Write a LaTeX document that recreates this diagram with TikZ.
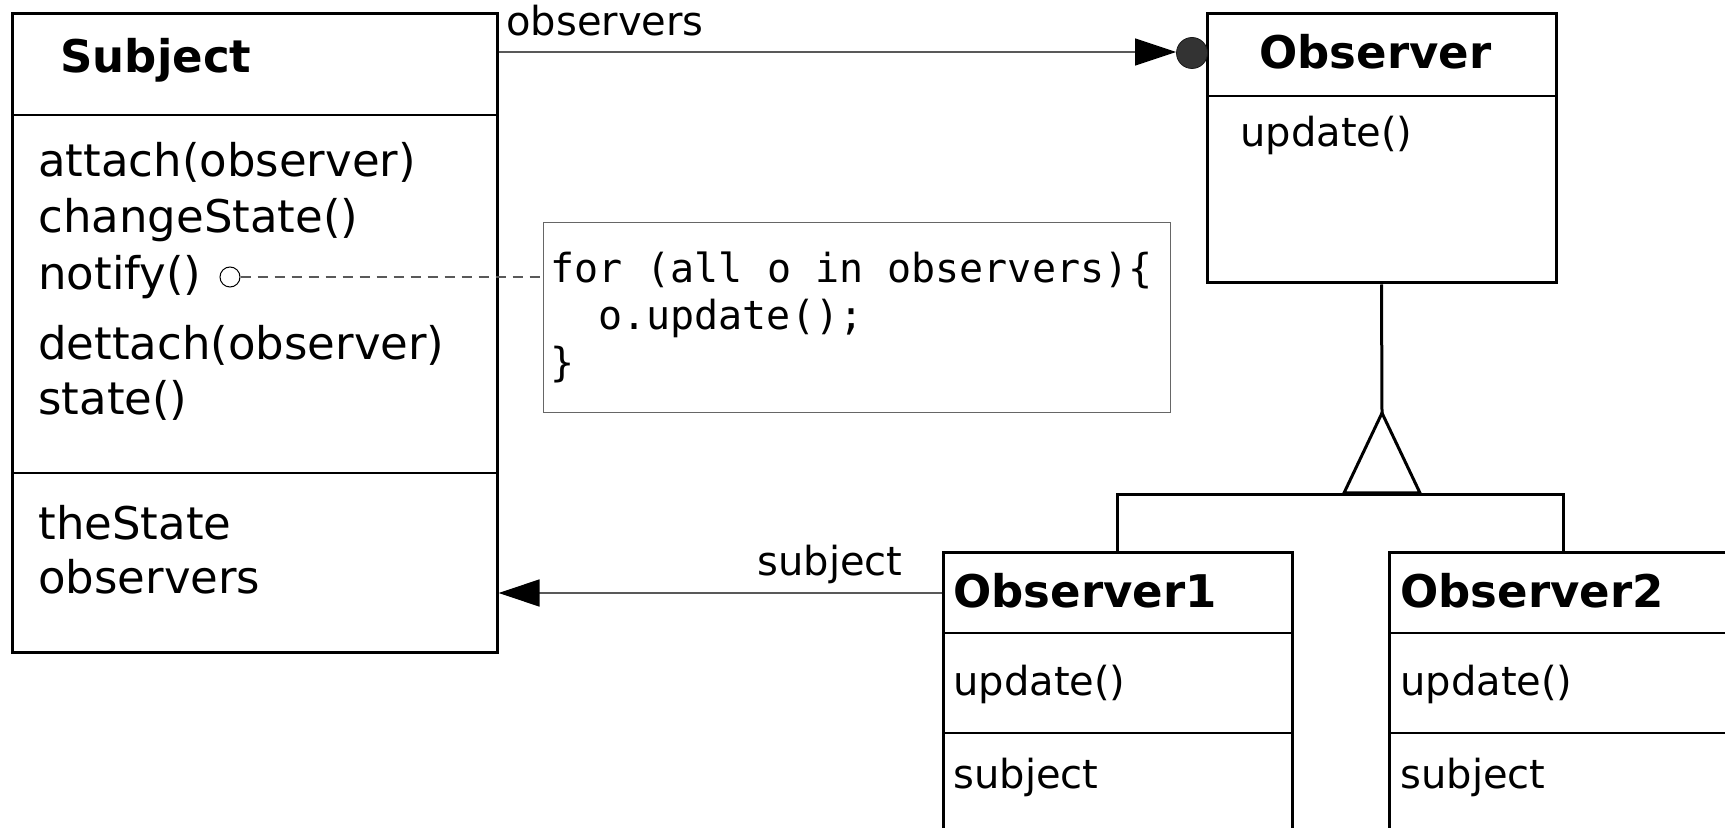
\documentclass[tikz,border=0pt]{standalone}
\usepackage{fontspec}
\setmainfont{DejaVu Sans}
\newfontfamily\codefont{DejaVu Sans Mono}
\usetikzlibrary{arrows.meta,fit}
\begin{document}
\begin{tikzpicture}[x=0.5pt,y=-0.5pt,
  classbox/.style={draw, line width=1.5pt, inner sep=0pt},
  divider/.style={line width=1pt},
  txt/.style={anchor=base west, inner sep=0pt},
  big/.style={txt, font=\fontsize{22.5pt}{27pt}\selectfont},
  bigb/.style={txt, font=\bfseries\fontsize{22.5pt}{27pt}\selectfont},
  mid/.style={txt, font=\fontsize{20pt}{24pt}\selectfont},
  code/.style={txt, font=\codefont\fontsize{20pt}{24pt}\selectfont},
  conn/.style={draw=black!65, line width=0.65pt},
  genline/.style={line width=1.5pt},
  tipA/.style={-{Triangle[length=20.5pt,width=13.5pt,color=black]}}
]
\useasboundingbox (0,0) rectangle (1725,828);
\clip (0,0) rectangle (1725,828);

% ---- Subject ----
\node[classbox, fit={(12,14) (497,652)}] (subject) {};
\draw[divider] (12,115) -- (497,115);
\draw[divider] (12,473) -- (497,473);
\node[bigb] (subjT) at (60,73) {Subject};
\node[big] (m1) at (38,177) {attach(observer)};
\node[big] (m2) at (38,233) {changeState()};
\node[big] (m3) at (38,290) {notify()};
\node[big] (m4) at (38,360) {dettach(observer)};
\node[big] (m5) at (38,415) {state()};
\node[big] (a1) at (38,540) {theState};
\node[big] (a2) at (38,594) {observers};

% ---- note ----
\node[draw=black!60, line width=0.5pt, inner sep=0pt, fit={(543,223) (1170,413)}] (note) {};
\node[code] (c1) at (550,283) {for (all o in observers)\{};
\node[code] (c2) at (598,330) {o.update();};
\node[code] (c3) at (550,377) {\}};
\node[circle, draw=black, line width=0.5pt, fill=white, minimum size=10pt, inner sep=0pt] (nc) at (230,277) {};
\draw[draw=black!65, line width=0.6pt, dash pattern=on 5pt off 3.5pt] (nc.east) -- (note.west |- nc.east);

% ---- Observer ----
\node[classbox, fit={(1207,14) (1556,283)}] (observer) {};
\draw[divider] (1207,96) -- (1556,96);
\node[bigb] (obsT) at (1259,69) {Observer};
\node[mid] (obsU) at (1240,147) {update()};

% aggregation ball and arrow
\node[circle, fill=black!80, draw=black!90, line width=0.4pt, minimum width=14.5pt, minimum height=15.5pt, inner sep=0pt] (ball) at (1192,53) {};
\draw[conn, tipA] (subject.east |- 0,52) -- (ball.west |- 0,52);
\node[mid] (lobs) at (506,36) {observers};

% ---- Observer1 ----
\node[classbox, fit={(943,553) (1292,900)}] (obs1) {};
\draw[divider] (943,633) -- (1292,633);
\draw[divider] (943,733) -- (1292,733);
\node[bigb] (o1T) at (953,607) {Observer1};
\node[mid] (o1U) at (953,695) {update()};
\node[mid] (o1S) at (953,788) {subject};

% ---- Observer2 ----
\node[classbox, fit={(1389,553) (1738,900)}] (obs2) {};
\draw[divider] (1389,633) -- (1738,633);
\draw[divider] (1389,733) -- (1738,733);
\node[bigb] (o2T) at (1400,607) {Observer2};
\node[mid] (o2U) at (1400,695) {update()};
\node[mid] (o2S) at (1400,788) {subject};

% subject association
\draw[conn, tipA] (obs1.west |- 0,593) -- (subject.east |- 0,593);
\node[mid] (lsub) at (757,575) {subject};

% ---- generalization ----
\coordinate (apex) at (1382,413);
\coordinate (bar) at (1382,495);
\draw[genline] (observer.south) -- (apex);
\draw[genline, line join=miter] (obs1.north) |- (bar) -| (obs2.north);
\draw[genline, fill=white, line join=miter] (apex) -- ++(-38,80) -- ++(76,0) -- cycle;
\end{tikzpicture}
\end{document}
